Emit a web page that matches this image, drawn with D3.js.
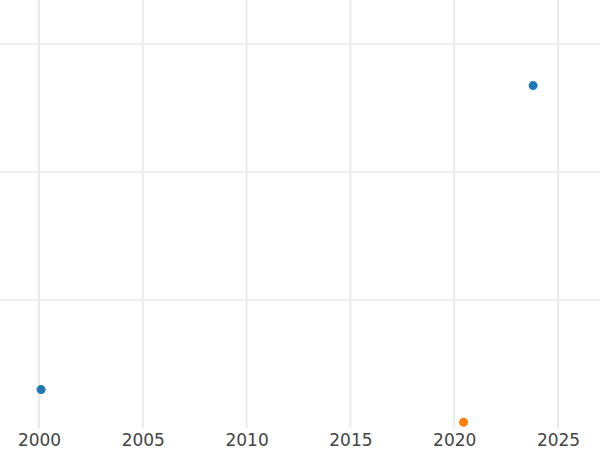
<!DOCTYPE html>
<html>
<head>
<meta charset="utf-8">
<script src="https://cdn.jsdelivr.net/npm/d3@7"></script>
<style>
  body { margin: 0; background: #fff; }
</style>
</head>
<body>
<div id="chart"></div>
<script>
// data
const years = [2000.1, 2023.8, 2020.45];
const values = [3.0, 26.75, 0.45];
const series = ['a', 'a', 'b'];
const xTicks = [2000, 2005, 2010, 2015, 2020, 2025];
const yTicks = [10, 20, 30];

const width = 600, height = 450;
const plotBottom = 428;

const svg = d3.select('#chart').append('svg')
    .attr('width', width)
    .attr('height', height);

const x = d3.scaleLinear()
    .domain([2000, 2025])
    .range([39, 558]);

const y = d3.scaleLinear()
    .domain([0, 30])
    .range([plotBottom, 44]);

const color = d3.scaleOrdinal()
    .domain(['a', 'b'])
    .range(['#1f77b4', '#ff7f0e']);

// grid
svg.append('g')
    .selectAll('line')
    .data(yTicks)
    .enter().append('line')
    .attr('x1', 0).attr('x2', width)
    .attr('y1', d => y(d)).attr('y2', d => y(d))
    .attr('stroke', '#ebebeb')
    .attr('stroke-width', 1.5);

svg.append('g')
    .selectAll('line')
    .data(xTicks)
    .enter().append('line')
    .attr('x1', d => x(d)).attr('x2', d => x(d))
    .attr('y1', 0).attr('y2', plotBottom)
    .attr('stroke', '#ebebeb')
    .attr('stroke-width', 2);

// x axis labels
const xAxis = svg.append('g')
    .attr('transform', `translate(0,${plotBottom})`)
    .call(d3.axisBottom(x).tickValues(xTicks).tickFormat(d3.format('d')).tickSize(0));
xAxis.select('.domain').remove();
xAxis.attr('font-family', 'DejaVu Sans').attr('font-size', 17);
xAxis.selectAll('.tick text')
    .attr('y', 18)
    .attr('dy', 0)
    .attr('fill', '#444');

// points
svg.append('g')
    .selectAll('circle')
    .data(years.map((d, i) => ({ year: d, value: values[i], s: series[i] })))
    .enter().append('circle')
    .attr('cx', d => x(d.year))
    .attr('cy', d => y(d.value))
    .attr('r', 4.5)
    .attr('fill', d => color(d.s));
</script>
</body>
</html>
